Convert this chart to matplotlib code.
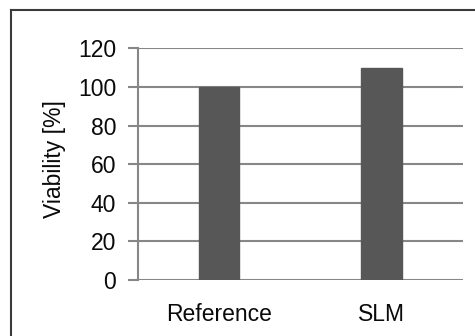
import matplotlib.pyplot as plt
from matplotlib.lines import Line2D

# values
categories = ['Reference', 'SLM']
viability = [100, 110]
y_ticks = [0, 20, 40, 60, 80, 100, 120]

plt.rcParams['font.family'] = ['Liberation Sans', 'DejaVu Sans']

fig = plt.figure(figsize=(4.75, 3.36), dpi=100)
ax = fig.add_axes([0.290, 0.1667, 0.684, 0.689])

x = range(len(categories))
ax.bar(x, viability, width=0.25, color='#575757', edgecolor='#575757', zorder=3)

ax.set_xlim(-0.5, 1.5)
ax.set_ylim(0, 120)
ax.set_yticks(y_ticks)
ax.set_xticks(list(x))
ax.set_xticklabels(categories)

grid_col = '#878787'
ax.yaxis.grid(True, color=grid_col, linewidth=1.5, zorder=1)
for side in ['top', 'right', 'bottom']:
    ax.spines[side].set_visible(False)
ax.spines['left'].set_color(grid_col)
ax.spines['left'].set_linewidth(1.5)

ax.tick_params(axis='y', length=7, width=1.5, color=grid_col, pad=8.5,
               labelsize=16.5, labelcolor='#0a0a0a')
ax.tick_params(axis='x', length=0, pad=16.5, labelsize=16.5, labelcolor='#0a0a0a')

fig.text(55 / 475, 1 - 159 / 336, 'Viability [%]', rotation=90,
         ha='center', va='center', fontsize=16.5, color='#0a0a0a')

# frame around the figure (only top and left edges show)
fig.add_artist(Line2D([10.8 / 475, 1.01], [1 - 10.2 / 336, 1 - 10.2 / 336],
                      transform=fig.transFigure, color='#3a3a3a', linewidth=1.5))
fig.add_artist(Line2D([10.8 / 475, 10.8 / 475], [1 - 10.2 / 336, -0.01],
                      transform=fig.transFigure, color='#3a3a3a', linewidth=1.5))

fig.savefig('out.png', dpi=100)
